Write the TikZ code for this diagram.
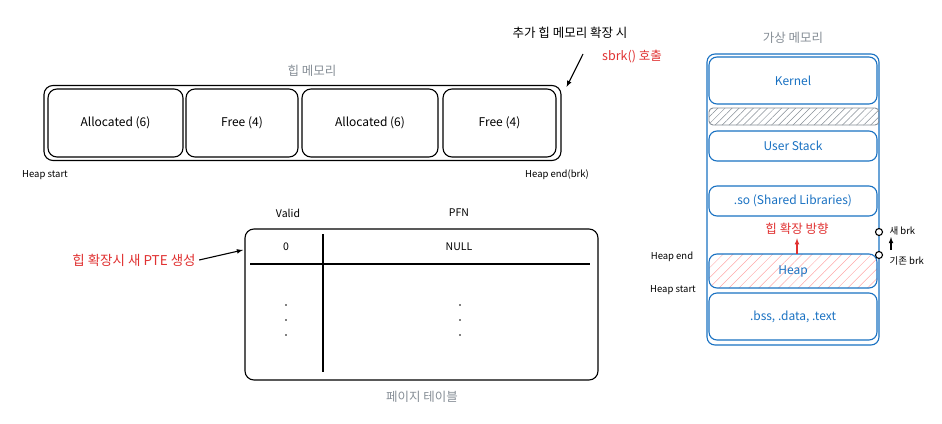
\documentclass[tikz,border=0pt]{standalone}
\usepackage{fontspec}
\setmainfont{Noto Sans CJK KR}
\usepackage{xcolor}
\usetikzlibrary{arrows}
\usetikzlibrary{math, patterns.meta}

\definecolor{skblue}{HTML}{1971C2}
\definecolor{skred}{HTML}{E03131}
\definecolor{skgray}{HTML}{868E96}
\definecolor{hatchred}{HTML}{FFA8A8}

\begin{document}
\begin{tikzpicture}[x=1pt, y=-1pt,
  cell/.style={draw, line width=1.1pt, rounded corners=9pt, font=\fontsize{12}{14}\selectfont},
  vcell/.style={draw=skblue, line width=1.1pt, rounded corners=8pt, minimum width=168pt, text=skblue, font=\fontsize{12}{14}\selectfont},
  title/.style={text=skgray, font=\fontsize{12.5}{14}\selectfont},
  small/.style={font=\fontsize{9.5}{11}\selectfont},
  redlbl/.style={text=skred, font=\fontsize{12.5}{14}\selectfont},
  brkdot/.style={circle, draw, line width=1.1pt, fill=white, inner sep=0pt, minimum size=7pt}]
\tikzmath{
\hy=123;   % heap row centre
\hh=68;    % heap cell height
\vx=793;   % virtual memory centre
}
\useasboundingbox (0,0) rectangle (942,423);

% heap memory
\node[title] (heaptitle) at (312,71) {힙 메모리};
\node[cell, minimum width=517pt, minimum height=75pt] (heap) at (302.5,\hy) {};
\node[cell, minimum width=135pt, minimum height=\hh] (alloca) at (115.5,\hy) {Allocated (6)};
\node[cell, minimum width=112pt, minimum height=\hh] (freea) at (242,\hy) {Free (4)};
\node[cell, minimum width=136pt, minimum height=\hh] (allocb) at (370,\hy) {Allocated (6)};
\node[cell, minimum width=113pt, minimum height=\hh] (freeb) at (499.5,\hy) {Free (4)};
\node[small] (heapstart) at (45,175) {Heap start};
\node[small] (heapend) at (557,175) {Heap end(brk)};

\node[font=\fontsize{12.5}{14}\selectfont] (extend) at (570,33) {추가 힙 메모리 확장 시};
\node[redlbl] (sbrk) at (632,57) {sbrk() 호출};
\coordinate (sbrkfrom) at (583,54);
\draw[-latex, line width=1.1pt] (sbrkfrom) -- ([shift={(5,2)}]heap.north east);

% page table
\node[font=\fontsize{10.5}{12}\selectfont] (valid) at (288,213) {Valid};
\node[font=\fontsize{10.5}{12}\selectfont] (pfn) at (459,213) {PFN};
\node[cell, minimum width=353pt, minimum height=151pt] (ptable) at (421.5,304.5) {};
\node[font=\fontsize{10.5}{12}\selectfont] (validzero) at (286,247) {0};
\node[font=\fontsize{10.5}{12}\selectfont] (pfnnull) at (459,247) {NULL};
\draw[line width=1.1pt] (250,264) -- (590,264);
\draw[line width=1.1pt] (323,234) -- (323,372);
\fill (286,305) circle(0.9pt) (286,320) circle(0.9pt) (286,335) circle(0.9pt);
\fill (460,305) circle(0.9pt) (460,320) circle(0.9pt) (460,335) circle(0.9pt);
\node[title] (pttitle) at (422,397) {페이지 테이블};

\node[redlbl, font=\fontsize{13.5}{15}\selectfont] (newpte) at (134,260) {힙 확장시 새 PTE 생성};
\coordinate (ptein) at (243,250);
\draw[-latex, line width=1.1pt] (newpte.east) -- (ptein);

% virtual memory
\node[title] (vtitle) at (\vx,38) {가상 메모리};
\node[draw=skblue, line width=1.1pt, rounded corners=8pt, minimum width=172pt, minimum height=291pt] (vmem) at (\vx,199.5) {};
\node[vcell, minimum height=47pt] (kernel) at (\vx,80.5) {Kernel};
\node[draw=skgray, line width=0.9pt, rounded corners=4pt, minimum width=170pt, minimum height=17pt,
  pattern={Lines[angle=45, distance=5pt, line width=0.5pt]}, pattern color=skgray] (gap) at (794,116.5) {};
\node[vcell, minimum height=30pt] (ustack) at (\vx,146) {User Stack};
\node[vcell, minimum height=30pt] (shlib) at (\vx,201) {.so (Shared Libraries)};
\node[vcell, minimum height=34pt, pattern={Lines[angle=45, distance=7pt, line width=0.5pt]}, pattern color=hatchred] (vheap) at (\vx,271) {};
\node[text=skblue, font=\fontsize{12}{14}\selectfont] (vheaplbl) at (\vx,271) {Heap};
\node[vcell, minimum height=47pt] (bss) at (\vx,316.5) {.bss, .data, .text};

\node[redlbl] (grow) at (797,229) {힙 확장 방향};
\draw[-latex, line width=1.1pt, skred] (797,254) -- (grow.south);

\node[small] (vheapend) at (672,257) {Heap end};
\node[small] (vheapstart) at (673,290) {Heap start};

\node[brkdot] (newbrk) at (879,232) {};
\node[brkdot] (oldbrk) at (879,255) {};
\node[anchor=west, font=\fontsize{9.5}{11}\selectfont] (newbrklbl) at (886,231) {새 brk};
\node[anchor=west, font=\fontsize{9.5}{11}\selectfont] (oldbrklbl) at (886,261) {기존 brk};
\draw[-latex, line width=1.1pt] (891,250) -- (891,237);
\end{tikzpicture}
\end{document}
